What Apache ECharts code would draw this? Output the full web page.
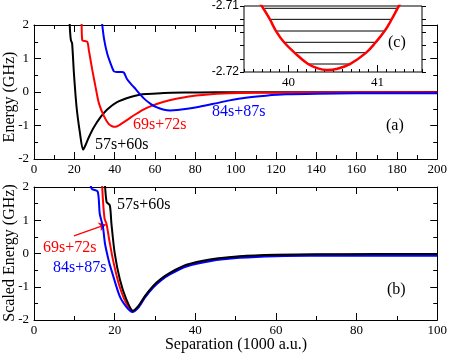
<!DOCTYPE html>
<html>
<head>
  <meta charset="utf-8">
</head>
<body style="margin: 0">
  <div id="container" style="width: 450px; height: 354px"></div>
  <script type="text/javascript" src="https://fastly.jsdelivr.net/npm/echarts@6/dist/echarts.min.js"></script>
  <script type="text/javascript">
// (a) potential curves: [separation (1000 a.u.), energy (GHz)]
var curve57 = [[17.5,2.3],[17.9,1.8],[18.3,1.55],[18.9,1.45],[19.8,0.56],[21.1,-0.44],[22.8,-1.23],[24.3,-1.72],[25.3,-1.62],[27.2,-1.35],[29.7,-1.05],[33,-0.75],[36.3,-0.52],[41.2,-0.3],[47.9,-0.15],[52.5,-0.08],[56.1,-0.06],[64.4,-0.03],[75,-0.018],[90,-0.01],[110,-0.007],[140,-0.005],[200,-0.003]];
var curve69 = [[23.6,2.3],[23.9,1.55],[26.4,1.5],[27.2,1.25],[28.9,0.66],[30.5,0.16],[32.2,-0.34],[34.7,-0.72],[37,-0.95],[39,-1.03],[40.5,-1.04],[42,-1.0],[44,-0.92],[47,-0.8],[50,-0.68],[54,-0.53],[58,-0.42],[64,-0.3],[70,-0.21],[76,-0.14],[85,-0.08],[97,-0.04],[110,-0.025],[130,-0.015],[160,-0.01],[200,-0.008]];
var curve84 = [[33.3,2.3],[34.7,1.6],[36.3,1.15],[38,0.85],[39.6,0.62],[41,0.6],[43.5,0.6],[44.6,0.58],[46.2,0.38],[48.7,0.2],[50.5,0.08],[52.5,-0.06],[55,-0.22],[58,-0.36],[61,-0.46],[64,-0.52],[67.5,-0.55],[71,-0.54],[76,-0.5],[82,-0.44],[90,-0.34],[97,-0.25],[105,-0.17],[115,-0.11],[125,-0.07],[140,-0.05],[160,-0.04],[200,-0.035]];

// (b) scaled curves
var scaled57 = [[17.5,2.3],[18,1.55],[18.8,1.45],[19.2,0.9],[20,0.02],[21.3,-0.78],[22.9,-1.38],[24.5,-1.72],[26,-1.56],[27.5,-1.28],[29.5,-0.98],[31.5,-0.76],[33.7,-0.58],[37.8,-0.34],[43.6,-0.18],[51,-0.08],[60,-0.035],[70,-0.022],[85,-0.018],[100,-0.016]];
var scaled69 = [[16.8,2.3],[17.1,1.6],[17.5,1.05],[18,0.88],[18.6,0.45],[19.6,-0.2],[21,-0.9],[22.7,-1.45],[24.5,-1.74],[26,-1.58],[27.5,-1.3],[29.5,-1.0],[31.5,-0.78],[33.7,-0.6],[37.8,-0.36],[43.6,-0.2],[51,-0.1],[60,-0.05],[70,-0.035],[85,-0.03],[100,-0.028]];
var scaled84 = [[13.8,2.3],[14.3,1.95],[15.8,1.86],[16.3,1.2],[17.1,0.8],[17.6,0.3],[18.5,-0.2],[19.2,-0.5],[21.3,-1.3],[23,-1.62],[24.4,-1.76],[26,-1.61],[27.5,-1.33],[29.5,-1.03],[31.5,-0.81],[33.7,-0.63],[37.8,-0.39],[43.6,-0.23],[51,-0.13],[60,-0.08],[70,-0.07],[85,-0.065],[100,-0.065]];
var arrow69 = [[9.9,0.53],[17.8,0.87]];

// (c) inset: bottom of the 69s+72s well and its bound levels
var insetWell = [[39.62,-2.7085],[39.7,-2.71],[39.79,-2.712],[39.86,-2.7138],[39.95,-2.7155],[40.07,-2.7171],[40.22,-2.7188],[40.32,-2.7194],[40.43,-2.7197],[40.55,-2.7195],[40.69,-2.7188],[40.87,-2.7171],[40.98,-2.7155],[41.08,-2.7138],[41.16,-2.712],[41.24,-2.71],[41.3,-2.7088]];
var levelE = [-2.71035,-2.71202,-2.71379,-2.7155,-2.71708,-2.71879];
var levelLeft = [39.73,39.79,39.86,39.95,40.07,40.22];
var levelRight = [41.23,41.16,41.08,40.98,40.87,40.69];

var serif = "'Liberation Serif', 'Times New Roman', serif";
var dom = document.getElementById('container');
var myChart = echarts.init(dom, null, { renderer: 'canvas' });

function mainX(grid, pos, max, labels) {
  return {
    type: 'value', gridIndex: grid, position: pos, min: 0, max: max, interval: 20,
    axisLine: { show: true, onZero: false, lineStyle: { color: '#000', width: 1 } },
    axisTick: { show: true, inside: true, length: 7, lineStyle: { color: '#000' } },
    minorTick: { show: true, splitNumber: 2, length: 4, lineStyle: { color: '#000' } },
    axisLabel: { show: labels, color: '#000', fontFamily: serif, fontSize: 13, margin: 4 },
    splitLine: { show: false }
  };
}
function mainY(grid, pos, labels) {
  return {
    type: 'value', gridIndex: grid, position: pos, min: -2, max: 2, interval: 1,
    axisLine: { show: true, onZero: false, lineStyle: { color: '#000', width: 1 } },
    axisTick: { show: true, inside: true, length: 7, lineStyle: { color: '#000' } },
    minorTick: { show: true, splitNumber: 2, length: 4, lineStyle: { color: '#000' } },
    axisLabel: { show: labels, color: '#000', fontFamily: serif, fontSize: 13, margin: 5 },
    splitLine: { show: false }
  };
}
function curve(data, color, xi, yi, z) {
  return {
    type: 'line', xAxisIndex: xi, yAxisIndex: yi, data: data, showSymbol: false,
    smooth: 0.25, lineStyle: { color: color, width: 2 }, z: z || 2, silent: true
  };
}

var levelSeries = levelE.map(function (e, i) {
  return {
    type: 'line', xAxisIndex: 4, yAxisIndex: 4, showSymbol: false, silent: true, z: 7,
    data: [[levelLeft[i], e], [levelRight[i], e]],
    lineStyle: { color: '#000', width: 1 }
  };
});

var option = {
  animation: false,
  grid: [
    { left: 34, top: 25, width: 404, height: 134 },
    { left: 34, top: 187, width: 404, height: 133 },
    { left: 244, top: 6, width: 178, height: 66, show: true, backgroundColor: '#fff',
      borderColor: '#000', borderWidth: 1, z: 5 }
  ],
  xAxis: [
    mainX(0, 'bottom', 200, true),
    mainX(0, 'top', 200, false),
    mainX(1, 'bottom', 100, true),
    mainX(1, 'top', 100, false),
    {
      type: 'value', gridIndex: 2, position: 'bottom', min: 39.5, max: 41.5, interval: 0.1, z: 6,
      axisLine: { show: false },
      axisTick: { show: true, inside: true, length: 3, lineStyle: { color: '#000' } },
      axisLabel: { show: false }, splitLine: { show: false }
    },
    {
      type: 'value', gridIndex: 2, position: 'bottom', min: 39.5, max: 41.5, z: 6,
      axisLine: { show: false },
      axisTick: { show: true, inside: true, length: 7, customValues: [40, 41], lineStyle: { color: '#000' } },
      axisLabel: { show: true, customValues: [40, 41], color: '#000', fontFamily: serif, fontSize: 13, margin: 4 },
      splitLine: { show: false }
    }
  ],
  yAxis: [
    mainY(0, 'left', true),
    mainY(0, 'right', false),
    mainY(1, 'left', true),
    mainY(1, 'right', false),
    {
      type: 'value', gridIndex: 2, position: 'left', min: -2.72, max: -2.71, interval: 0.002, z: 6,
      axisLine: { show: false },
      axisTick: { show: true, inside: false, length: 4, lineStyle: { color: '#000' } },
      axisLabel: {
        show: true, color: '#000', fontFamily: 'Liberation Sans', fontSize: 12, margin: 5,
        formatter: function (v) {
          var s = v.toFixed(3);
          return (s === '-2.720' || s === '-2.710') ? v.toFixed(2) : '';
        }
      },
      splitLine: { show: false }
    },
    {
      type: 'value', gridIndex: 2, position: 'right', min: -2.72, max: -2.71, interval: 0.002, z: 6,
      axisLine: { show: false },
      axisTick: { show: true, inside: false, length: 4, lineStyle: { color: '#000' } },
      axisLabel: { show: false }, splitLine: { show: false }
    }
  ],
  series: [
    curve(curve57, '#000', 0, 0),
    curve(curve69, '#f00', 0, 0),
    curve(curve84, '#00f', 0, 0),
    curve(scaled69, '#f00', 2, 2),
    curve(scaled84, '#00f', 2, 2),
    curve(scaled57, '#000', 2, 2),
    {
      type: 'lines', coordinateSystem: 'cartesian2d', xAxisIndex: 2, yAxisIndex: 2, silent: true,
      symbol: ['none', 'arrow'], symbolSize: 7,
      lineStyle: { color: '#f00', width: 1.2, opacity: 1 },
      data: [{ coords: arrow69 }]
    }
  ].concat(levelSeries).concat([
    {
      type: 'line', xAxisIndex: 4, yAxisIndex: 4, data: insetWell, showSymbol: false, silent: true,
      smooth: 0.4, z: 8, lineStyle: { color: '#f00', width: 2.5 }
    }
  ]),
  graphic: [
    { type: 'text', x: 10, y: 97, rotation: Math.PI / 2, z: 10,
      style: { text: 'Energy (GHz)', fontFamily: serif, fontSize: 16, fill: '#000', align: 'center', verticalAlign: 'middle' } },
    { type: 'text', x: 10, y: 253, rotation: Math.PI / 2, z: 10,
      style: { text: 'Scaled Energy (GHz)', fontFamily: serif, fontSize: 16, fill: '#000', align: 'center', verticalAlign: 'middle' } },
    { type: 'text', x: 236, y: 345, z: 10,
      style: { text: 'Separation (1000 a.u.)', fontFamily: serif, fontSize: 16, fill: '#000', align: 'center', verticalAlign: 'middle' } },
    { type: 'text', x: 95, y: 145, z: 10,
      style: { text: '57s+60s', fontFamily: serif, fontSize: 16, fill: '#000', verticalAlign: 'middle' } },
    { type: 'text', x: 133, y: 125, z: 10,
      style: { text: '69s+72s', fontFamily: serif, fontSize: 16, fill: '#f00', verticalAlign: 'middle' } },
    { type: 'text', x: 212, y: 112, z: 10,
      style: { text: '84s+87s', fontFamily: serif, fontSize: 16, fill: '#00f', verticalAlign: 'middle' } },
    { type: 'text', x: 386, y: 126, z: 10,
      style: { text: '(a)', fontFamily: serif, fontSize: 16, fill: '#000', verticalAlign: 'middle' } },
    { type: 'text', x: 388, y: 43, z: 10,
      style: { text: '(c)', fontFamily: serif, fontSize: 16, fill: '#000', verticalAlign: 'middle' } },
    { type: 'text', x: 387, y: 290, z: 10,
      style: { text: '(b)', fontFamily: serif, fontSize: 16, fill: '#000', verticalAlign: 'middle' } },
    { type: 'text', x: 117, y: 205, z: 10,
      style: { text: '57s+60s', fontFamily: serif, fontSize: 16, fill: '#000', verticalAlign: 'middle' } },
    { type: 'text', x: 43, y: 248, z: 10,
      style: { text: '69s+72s', fontFamily: serif, fontSize: 16, fill: '#f00', verticalAlign: 'middle' } },
    { type: 'text', x: 53, y: 268, z: 10,
      style: { text: '84s+87s', fontFamily: serif, fontSize: 16, fill: '#00f', verticalAlign: 'middle' } }
  ]
};

myChart.setOption(option);
window.addEventListener('resize', myChart.resize);
  </script>
</body>
</html>
